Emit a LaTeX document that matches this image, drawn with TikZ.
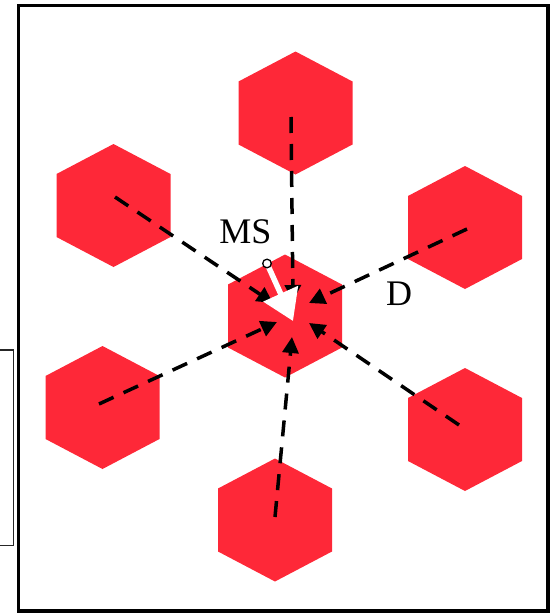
\documentclass[tikz,border=0pt]{standalone}
\usepackage{fontspec}
\setmainfont{Liberation Serif}
\usetikzlibrary{arrows.meta}

\definecolor{cellred}{RGB}{254,40,56}

\tikzset{
  hexcell/.pic={
    \fill[cellred] (0,-61.5) -- (57,-31.5) -- (57,31.5) -- (0,61.5)
      -- (-57,31.5) -- (-57,-31.5) -- cycle;
  },
  link/.style={line width=3.5pt, dash pattern=on 16pt off 11pt,
    -{Triangle[length=16pt,width=16pt]}},
  lbl/.style={font=\fontsize{36}{36}\selectfont, inner sep=0pt},
}

\begin{document}
\begin{tikzpicture}[x=1pt,y=-1pt]
  \useasboundingbox (0,0) rectangle (551,613);

  % outer frame
  \draw[line width=3.2pt] (18.7,5.6) rectangle (548,611);
  % partial box on the left
  \draw[line width=1.4pt, black!85] (-5,350) rectangle (13.3,545.5);

  % cell centres
  \coordinate (cC)  at (285,316);
  \coordinate (cT)  at (295.5,113);
  \coordinate (cTL) at (113.5,205.5);
  \coordinate (cTR) at (465,227.5);
  \coordinate (cL)  at (102.5,407.5);
  \coordinate (cBR) at (465,429.5);
  \coordinate (cB)  at (275,520);

  \foreach \c in {cC,cT,cTL,cTR,cL,cBR,cB} \pic at (\c) {hexcell};

  % interference links: starts in the neighbouring cells, tips at the serving cell
  \coordinate (sT)  at (291,117);
  \coordinate (sTL) at (115,197);
  \coordinate (sTR) at (467,229);
  \coordinate (sL)  at (99,404);
  \coordinate (sBR) at (459,425);
  \coordinate (sB)  at (275,517);

  \coordinate (tT)  at (293,301);
  \coordinate (tTL) at (273,303);
  \coordinate (tTR) at (309,303);
  \coordinate (tL)  at (277,322);
  \coordinate (tBR) at (309,323);
  \coordinate (tB)  at (292,337);

  \draw[link] (sT)  -- (tT);
  \draw[link] (sTL) -- (tTL);
  \draw[link] (sTR) -- (tTR);
  \draw[link] (sL)  -- (tL);
  \draw[link] (sBR) -- (tBR);
  \draw[link] (sB)  -- (tB);

  % mobile station and its movement
  \coordinate (ms)    at (267,263.5);
  \coordinate (mstip) at (293,321);
  \draw[white, line width=5.5pt, -{Triangle[length=30pt,width=37pt]}] (ms) -- (mstip);
  \draw[fill=white, line width=1.3pt] (ms) circle (4.3pt);

  \node[lbl] (msl) at (245.5,232) {MS};
  \node[lbl] (dl)  at (399,293.5) {D};
\end{tikzpicture}
\end{document}
